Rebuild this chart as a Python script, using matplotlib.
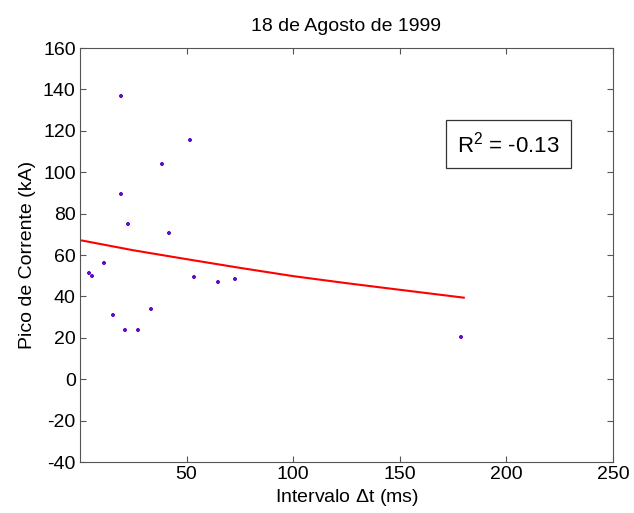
import numpy as np
import matplotlib.pyplot as plt

plt.rcParams['font.family'] = ['Liberation Sans', 'DejaVu Sans']
plt.rcParams['axes.unicode_minus'] = False
plt.rcParams['mathtext.fontset'] = 'custom'
plt.rcParams['mathtext.rm'] = 'Liberation Sans'
plt.rcParams['mathtext.it'] = 'Liberation Sans'

# dados
intervalo = [19.3, 51.4, 38.7, 19.3, 22.5, 41.7, 11.5, 4.2, 5.5, 53.5,
             64.6, 72.5, 15.3, 33.3, 21.2, 27.4, 178.8]
pico = [137.0, 115.5, 104.0, 89.5, 75.0, 70.7, 55.9, 51.2, 50.1, 49.6,
        47.0, 48.6, 31.0, 34.0, 23.9, 23.9, 20.5]

# curva de ajuste
ajuste_x = [1, 25, 50, 75, 100, 125, 150, 180]
ajuste_y = [67.0, 62.3, 58.0, 53.8, 49.8, 46.4, 43.2, 39.4]

titulo = '18 de Agosto de 1999'
r2_texto = 'R$^\\mathrm{2}$ = -0.13'

fig = plt.figure(figsize=(6.34, 5.13), dpi=100)
ax = fig.add_axes([0.126, 0.0994, 0.841, 0.807])

ax.plot(intervalo, pico, linestyle='none', marker='+', markersize=3.5,
        markeredgewidth=1.6, color='#5f10c8')
ax.plot(ajuste_x, ajuste_y, color='red', linewidth=1.5)

ax.set_xlim(0, 250)
ax.set_ylim(-40, 160)
ax.set_xticks([50, 100, 150, 200, 250])
ax.set_yticks(np.arange(-40, 161, 20))
ax.tick_params(direction='in', top=True, right=True, labelsize=14, length=4,
               color='#555555', pad=3)
for s in ax.spines.values():
    s.set_color('#555555')

ax.set_title(titulo, fontsize=14, pad=12)
ax.set_xlabel('Intervalo $\\Delta$t (ms)', fontsize=14, labelpad=3)
ax.set_ylabel('Pico de Corrente (kA)', fontsize=14, labelpad=5)

ax.text(0.804, 0.768, r2_texto, transform=ax.transAxes, fontsize=16,
        ha='center', va='center',
        bbox=dict(facecolor='white', edgecolor='#333333',
                  boxstyle='square,pad=0.5', linewidth=0.9))

fig.savefig('out.png', dpi=100)
